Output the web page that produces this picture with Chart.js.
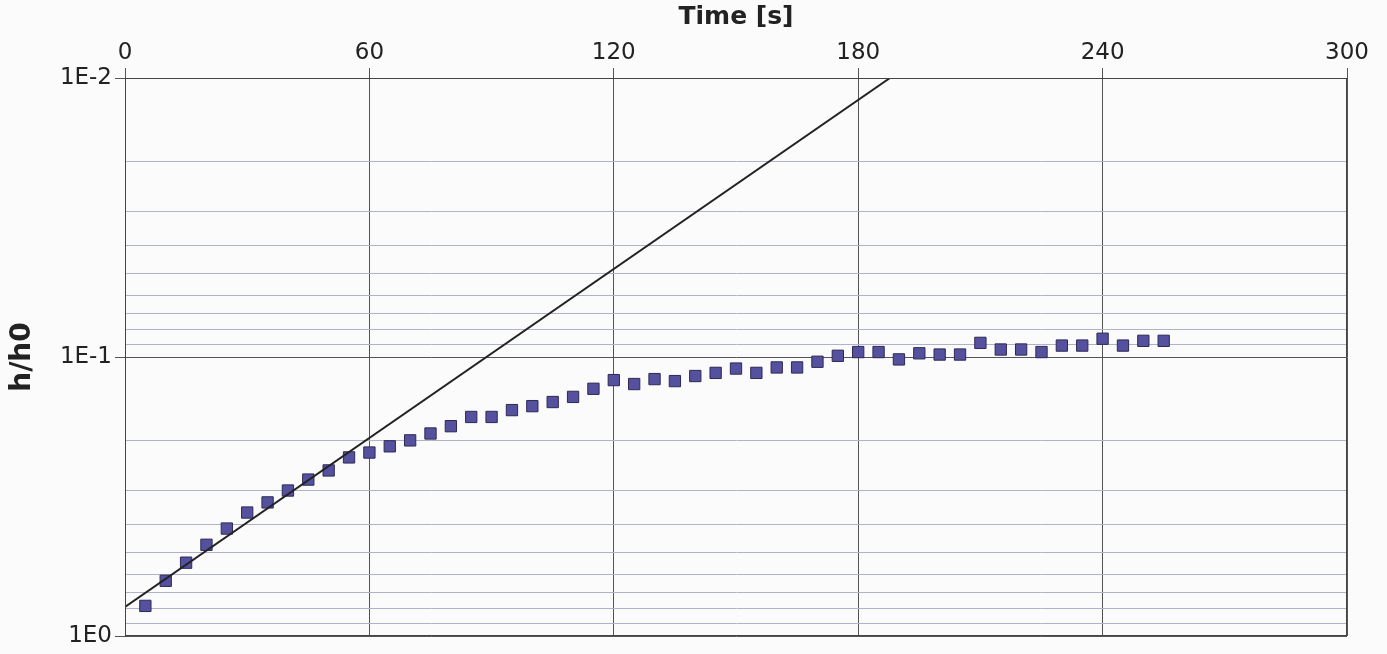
<!DOCTYPE html>
<html>
<head>
<meta charset="utf-8">
<script src="https://cdn.jsdelivr.net/npm/chart.js@4"></script>
<style>
  html, body { margin: 0; padding: 0; background: #fbfbfb; }
  #wrap { width: 1387px; height: 654px; }
</style>
</head>
<body>
<div id="wrap"><canvas id="chart" width="1387" height="654"></canvas></div>
<script>
const times = [5, 10, 15, 20, 25, 30, 35, 40, 45, 50, 55, 60, 65, 70, 75, 80, 85, 90, 95, 100,
  105, 110, 115, 120, 125, 130, 135, 140, 145, 150, 155, 160, 165, 170, 175, 180, 185, 190, 195, 200,
  205, 210, 215, 220, 225, 230, 235, 240, 245, 250, 255];
const heights = [0.78, 0.634, 0.546, 0.471, 0.412, 0.361, 0.332, 0.301, 0.275, 0.255, 0.229, 0.220, 0.209, 0.199, 0.188, 0.177, 0.164, 0.164, 0.155, 0.150,
  0.145, 0.139, 0.130, 0.121, 0.125, 0.120, 0.122, 0.117, 0.114, 0.110, 0.114, 0.109, 0.109, 0.104, 0.099, 0.096, 0.096, 0.102, 0.097, 0.098,
  0.098, 0.089, 0.094, 0.094, 0.096, 0.091, 0.091, 0.086, 0.091, 0.0875, 0.0875];

// fitted exponential decay line (end points)
const fitTimes = [0, 187.8];
const fitHeights = [0.787, 0.01];

const xTicks = [0, 60, 120, 180, 240, 300];
const yTicks = [0.01, 0.02, 0.03, 0.04, 0.05, 0.06, 0.07, 0.08, 0.09,
  0.1, 0.2, 0.3, 0.4, 0.5, 0.6, 0.7, 0.8, 0.9, 1];
const yLabels = { 0.01: '1E-2', 0.1: '1E-1', 1: '1E0' };

const isMajor = (v) => yLabels[v] !== undefined;

const ctx = document.getElementById('chart').getContext('2d');

new Chart(ctx, {
  type: 'scatter',
  data: {
    datasets: [
      {
        label: 'fit',
        type: 'line',
        data: fitTimes.map((t, i) => ({ x: t, y: fitHeights[i] })),
        borderColor: '#222222',
        borderWidth: 2,
        pointRadius: 0,
        tension: 0,
        fill: false
      },
      {
        label: 'h/h0',
        data: times.map((t, i) => ({ x: t, y: heights[i] })),
        pointStyle: 'rect',
        pointRadius: 8,
        backgroundColor: '#55519e',
        borderColor: '#2c2a55',
        borderWidth: 1
      }
    ]
  },
  options: {
    responsive: false,
    animation: false,
    layout: { padding: { left: 0, right: 40, top: 0, bottom: 18 } },
    plugins: { legend: { display: false }, tooltip: { enabled: false } },
    scales: {
      x: {
        type: 'linear',
        position: 'top',
        min: 0,
        max: 300,
        afterBuildTicks: (scale) => { scale.ticks = xTicks.map((v) => ({ value: v })); },
        afterFit: (scale) => { scale.height = 78; },
        grid: { color: '#555555', lineWidth: 1, tickLength: 10, drawTicks: true },
        border: { color: '#444444', width: 1 },
        ticks: {
          color: '#222222',
          font: { family: 'DejaVu Sans', size: 23 },
          padding: 1,
          maxRotation: 0
        },
        title: {
          display: true,
          text: 'Time [s]',
          color: '#222222',
          font: { family: 'DejaVu Sans', size: 25, weight: 'bold' },
          padding: { top: 2, bottom: 0 }
        }
      },
      y: {
        type: 'logarithmic',
        reverse: true,
        min: 0.01,
        max: 1,
        afterBuildTicks: (scale) => { scale.ticks = yTicks.map((v) => ({ value: v })); },
        afterFit: (scale) => { scale.width = 125; },
        grid: {
          color: (c) => (isMajor(c.tick.value) ? '#555555' : '#aeb3c9'),
          tickColor: (c) => (isMajor(c.tick.value) ? '#555555' : 'rgba(0,0,0,0)'),
          lineWidth: 1,
          tickLength: 10
        },
        border: { color: '#444444', width: 1 },
        ticks: {
          color: '#222222',
          font: { family: 'DejaVu Sans', size: 23 },
          padding: 3,
          autoSkip: false,
          callback: (v) => yLabels[v] || ''
        },
        title: {
          display: true,
          text: 'h/h0',
          color: '#222222',
          font: { family: 'DejaVu Sans', size: 28, weight: 'bold' },
          padding: { top: 6, bottom: 0 }
        }
      }
    }
  },
  plugins: [{
    id: 'frame',
    afterDraw(chart) {
      const a = chart.chartArea;
      const c = chart.ctx;
      c.save();
      c.strokeStyle = '#444444';
      c.lineWidth = 1;
      c.strokeRect(a.left + 0.5, a.top + 0.5, a.right - a.left - 1, a.bottom - a.top - 1);
      c.restore();
    }
  }]
});
</script>
</body>
</html>
